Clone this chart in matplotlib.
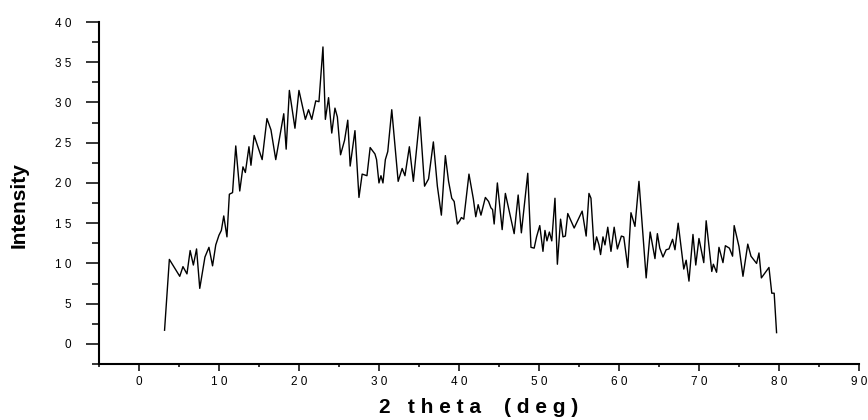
import matplotlib
matplotlib.use("Agg")
from matplotlib import pyplot as plt
from matplotlib.ticker import MultipleLocator, FixedLocator

plt.rcParams['font.family'] = ['Liberation Sans', 'DejaVu Sans']

# XRD pattern (2 theta in deg, intensity)
two_theta = [
    3.2, 3.8, 5.1, 5.5, 6.0, 6.4, 6.8, 7.2, 7.6, 8.25, 8.75, 9.2, 9.6, 10.0,
    10.3, 10.6, 11.0, 11.3, 11.7, 12.1, 12.6, 13.0, 13.3, 13.75, 14.0, 14.4,
    15.4, 16.0, 16.5, 17.1, 18.1, 18.4, 18.8, 19.5, 20.0, 20.8, 21.2, 21.6,
    22.1, 22.5, 23.0, 23.3, 23.7, 24.1, 24.5, 24.8, 25.2, 25.7, 26.1, 26.4,
    27.0, 27.5, 27.9, 28.5, 28.9, 29.5, 29.7, 30.0, 30.25, 30.5, 30.8, 31.1,
    31.6, 32.4, 32.9, 33.25, 33.8, 34.3, 35.1, 35.7, 36.2, 36.8, 37.3, 37.8,
    38.3, 38.7, 39.1, 39.4, 39.8, 40.1, 40.3, 40.6, 41.25, 41.8, 42.1, 42.4,
    42.75, 43.3, 43.7, 44.0, 44.2, 44.4, 44.8, 45.4, 45.8, 46.9, 47.4, 47.8,
    48.6, 49.0, 49.4, 49.7, 50.1, 50.5, 50.75, 51.0, 51.3, 51.6, 52.0, 52.3,
    52.7, 53.0, 53.3, 53.6, 54.4, 55.4, 55.9, 56.25, 56.5, 56.9, 57.2, 57.5,
    57.7, 58.0, 58.25, 58.6, 59.0, 59.4, 59.8, 60.3, 60.6, 61.1, 61.5, 62.0,
    62.5, 63.4, 63.9, 64.5, 64.8, 65.1, 65.5, 65.9, 66.25, 66.7, 67.0, 67.4,
    68.1, 68.4, 68.75, 69.25, 69.6, 70.0, 70.6, 70.9, 71.6, 71.8, 72.2, 72.5,
    73.0, 73.3, 73.8, 74.2, 74.4, 75.0, 75.5, 76.1, 76.5, 77.2, 77.5, 77.8,
    78.75, 79.1, 79.4, 79.7,
]
intensity = [
    1.7, 10.5, 8.4, 9.6, 8.7, 11.6, 9.8, 11.8, 6.9, 10.8, 12.0, 9.7, 12.3, 13.5,
    14.1, 15.9, 13.3, 18.6, 18.8, 24.6, 19.0, 22.0, 21.3, 24.5, 22.2, 25.9,
    22.9, 28.0, 26.6, 22.9, 28.6, 24.2, 31.5, 26.8, 31.5, 27.9, 29.1, 27.9,
    30.2, 30.1, 36.9, 27.9, 30.6, 26.2, 29.3, 28.2, 23.5, 25.3, 27.8, 22.1,
    26.5, 18.2, 21.1, 20.9, 24.4, 23.6, 22.9, 20.0, 20.9, 20.0, 22.9, 23.9,
    29.1, 20.2, 21.8, 20.9, 24.5, 20.2, 28.2, 19.6, 20.5, 25.1, 19.6, 16.0,
    23.4, 20.2, 18.1, 17.7, 14.9, 15.3, 15.7, 15.5, 21.1, 18.0, 15.8, 17.3,
    16.0, 18.2, 17.7, 16.9, 16.7, 14.9, 20.0, 14.2, 18.7, 13.7, 18.5, 13.8,
    21.2, 12.0, 11.9, 13.3, 14.7, 11.5, 14.1, 12.8, 13.9, 12.8, 18.1, 9.9,
    15.5, 13.3, 13.4, 16.2, 14.4, 16.5, 13.4, 18.7, 18.1, 11.7, 13.3, 12.3,
    11.1, 13.3, 12.3, 14.5, 11.5, 14.5, 11.8, 13.4, 13.3, 9.5, 16.3, 14.6,
    20.2, 8.2, 13.9, 10.6, 13.7, 11.9, 10.8, 11.7, 11.8, 13.0, 11.7, 15.0,
    9.3, 10.4, 7.8, 13.6, 9.8, 13.1, 10.1, 15.3, 9.0, 9.9, 8.9, 12.0,
    10.1, 12.2, 11.9, 10.9, 14.7, 12.1, 8.4, 12.4, 10.9, 10.0, 11.3, 8.2,
    9.5, 6.3, 6.3, 1.4,
]

x_ticks = [0, 10, 20, 30, 40, 50, 60, 70, 80, 90]
y_ticks = [0, 5, 10, 15, 20, 25, 30, 35, 40]


def spaced(v):
    # the original labels have a gap between every character
    return " ".join(str(v))


fig = plt.figure(figsize=(8.68, 4.2), dpi=100)
ax = fig.add_axes([0.114, 0.1333, 0.8756, 0.8143])

ax.plot(two_theta, intensity, color="black", lw=1.0)

ax.set_xlim(-5, 90)
ax.set_ylim(-2.5, 40)

ax.xaxis.set_major_locator(FixedLocator(x_ticks))
ax.xaxis.set_minor_locator(MultipleLocator(5))
ax.yaxis.set_major_locator(FixedLocator(y_ticks))
ax.yaxis.set_minor_locator(MultipleLocator(2.5))
ax.set_xticklabels([spaced(v) for v in x_ticks])
ax.set_yticklabels([spaced(v) for v in y_ticks])

ax.spines['top'].set_visible(False)
ax.spines['right'].set_visible(False)
ax.spines['left'].set_linewidth(1.5)
ax.spines['bottom'].set_linewidth(1.5)

ax.tick_params(axis='x', which='major', direction='out', length=4.8, width=1.1,
               pad=4, labelsize=8.5)
ax.tick_params(axis='x', which='minor', direction='out', length=2.2, width=1.1)
ax.tick_params(axis='y', which='major', direction='out', length=9.4, width=1.1,
               pad=10.5, labelsize=8.5)
ax.tick_params(axis='y', which='minor', direction='out', length=5, width=1.1)

ax.set_xlabel("2   t h e t a    ( d e g )", fontsize=15, fontweight='bold', labelpad=7)
ax.set_ylabel("Intensity", fontsize=15, fontweight='bold')
ax.yaxis.set_label_coords(-0.093, 0.465)

plt.savefig("out.png", dpi=100)
